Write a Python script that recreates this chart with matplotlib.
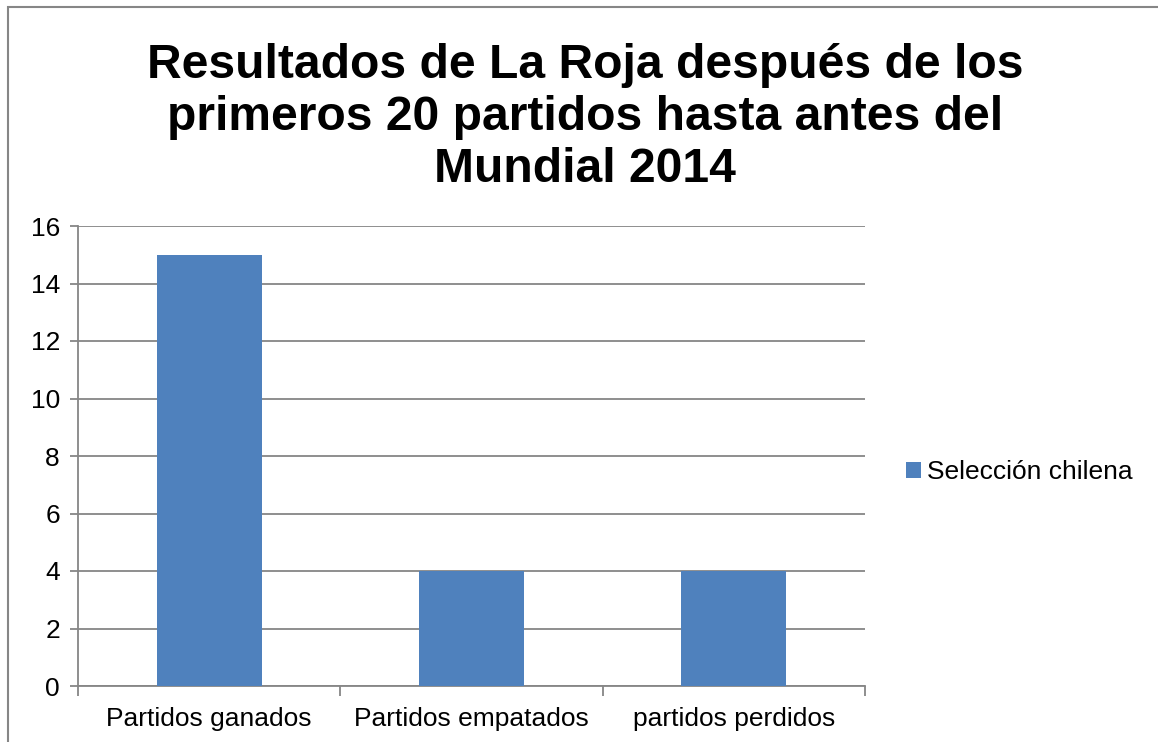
import matplotlib.pyplot as plt
from matplotlib.patches import Rectangle

# Datos del gráfico
categorias = ['Partidos ganados', 'Partidos empatados', 'partidos perdidos']
valores = [15, 4, 4]
serie = 'Selección chilena'
titulo = 'Resultados de La Roja después de los\nprimeros 20 partidos hasta antes del\nMundial 2014'

plt.rcParams['font.family'] = ['Liberation Sans', 'DejaVu Sans']
gris = '#868686'
azul = '#4F81BD'

fig = plt.figure(figsize=(11.58, 7.42), dpi=100)
ax = fig.add_axes([78 / 1158, 1 - 686 / 742, (865 - 78) / 1158, (686 - 226) / 742])

x = range(len(categorias))
ax.bar(x, valores, width=0.4, color=azul, label=serie, zorder=3)

ax.set_xlim(-0.5, len(categorias) - 0.5)
ax.set_ylim(0, 16)
ax.set_yticks(range(0, 17, 2))
ax.set_xticks(list(x))
ax.set_xticklabels(categorias)
ax.set_xticks([i - 0.5 for i in range(len(categorias) + 1)], minor=True)

ax.grid(axis='y', color=gris, linewidth=1.3, zorder=0)
for s in ['top', 'right']:
    ax.spines[s].set_visible(False)
for s in ['left', 'bottom']:
    ax.spines[s].set_color(gris)
    ax.spines[s].set_linewidth(1.3)

ax.tick_params(axis='y', length=6, width=1.3, color=gris, labelsize=19, pad=7)
ax.tick_params(axis='x', which='major', length=0, labelsize=19, pad=15)
ax.tick_params(axis='x', which='minor', length=7, width=1.3, color=gris)

# Título
fig.text(585 / 1158, 1 - 118 / 742, titulo, ha='center', va='center',
         fontsize=34.6, fontweight='bold', linespacing=1.2)

# Leyenda
ax.legend(loc='center left', bbox_to_anchor=(1.039, 0.465), frameon=False,
          fontsize=19, handlelength=0.55, handleheight=0.55, handletextpad=0.25,
          borderaxespad=0)

# Borde del gráfico
fig.patches.append(Rectangle((8 / 1158, -0.1), 1.2, 1 - 7 / 742 + 0.1,
                             transform=fig.transFigure, fill=False,
                             edgecolor=gris, linewidth=1.5))

fig.savefig('out.png', dpi=100)
